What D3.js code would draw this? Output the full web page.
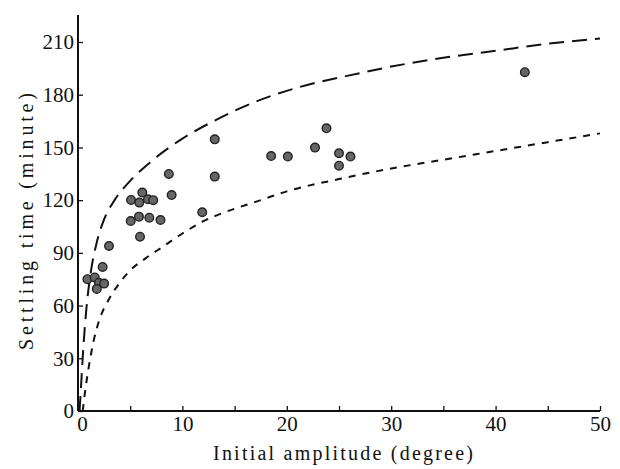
<!DOCTYPE html>
<html>
<head>
<meta charset="utf-8">
<script src="https://cdn.jsdelivr.net/npm/d3@7"></script>
<style>
    body { margin: 0; background: #fff; }
    svg { display: block; }
</style>
</head>
<body>
<div id="chart"></div>
<script>

// Measured points (initial amplitude in degree, settling time in minute)
const ampVals = [0.9, 1.6, 2.0, 2.5, 1.8, 2.36, 2.97, 5.05, 5.84, 6.83, 7.9, 5.94, 5.08, 5.87,
    6.16, 6.7, 7.2, 8.97, 8.7, 11.9, 13.1, 13.1, 18.5, 20.1, 22.7, 23.8, 25.0, 26.1, 25.0, 42.8];
const timeVals = [75, 76, 73, 72.5, 69.5, 82, 93.9, 108.1, 110.6, 110, 108.7, 99.2, 120.1, 118.6,
    124.3, 120.5, 120, 122.9, 134.9, 113.1, 154.6, 133.4, 145.1, 144.8, 149.9, 160.9, 146.7, 144.8, 139.6, 192.8];

// Upper bound curve (long dashes)
const upperX = [0.15, 0.3, 0.5, 0.8, 1.2, 1.8, 2.5, 3.5, 5, 7, 10, 13, 17, 21, 26, 30, 35, 40, 45, 50];
const upperY = [0, 15, 35, 58, 78, 96, 109, 120, 131, 142, 155, 165, 176, 184, 191, 196, 201, 205, 209, 212];

// Lower bound curve (short dashes)
const lowerX = [0.45, 0.7, 1.0, 1.5, 2, 3, 4, 5, 6.5, 8, 10, 12, 14, 17, 20, 25, 30, 35, 40, 45, 50];
const lowerY = [0, 12, 24, 40, 51, 64, 73, 80, 87, 93, 101, 108, 113, 119, 125, 132, 138, 143, 148, 153, 158];

const xTicks = [0, 5, 10, 15, 20, 25, 30, 35, 40, 45, 50];
const xTickLabels = ['0', '', '10', '', '20', '', '30', '', '40', '', '50'];
const yTicks = [0, 30, 60, 90, 120, 150, 180, 210];

function drawChart() {
    let width = 620;
    let height = 469;

    let svg = d3.select('#chart').append('svg')
        .attr('width', width)
        .attr('height', height);

    // Scale
    let xScale = d3.scaleLinear().domain([0, 50]).range([78, 600]);
    let yScale = d3.scaleLinear().domain([0, 210]).range([411, 42]);

    // Axis
    let xAxis = d3.axisBottom(xScale)
        .tickValues(xTicks)
        .tickFormat((d, i) => xTickLabels[i])
        .tickSize(-5)
        .tickPadding(5);

    let yAxis = d3.axisLeft(yScale)
        .tickValues(yTicks)
        .tickSize(-5)
        .tickPadding(4);

    let gx = svg.append('g')
        .attr('transform', `translate(0, ${yScale(0)})`)
        .call(xAxis);

    let gy = svg.append('g')
        .attr('transform', `translate(${xScale(0)}, 0)`)
        .call(yAxis);

    [gx, gy].forEach(g => {
        g.select('.domain').remove();
        g.selectAll('line').attr('stroke', '#111').attr('stroke-width', 1.3);
        g.selectAll('text')
            .attr('fill', '#111')
            .style('font-family', '"Liberation Serif", serif')
            .style('font-size', '21px');
    });
    gx.selectAll('text').attr('dx', (d, i) => i == 0 ? 4 : 0);

    // axis lines
    svg.append('line')
        .attr('x1', xScale(0)).attr('x2', xScale(0))
        .attr('y1', 15).attr('y2', yScale(0))
        .attr('stroke', '#111').attr('stroke-width', 2);
    svg.append('line')
        .attr('x1', xScale(0)).attr('x2', xScale(50))
        .attr('y1', yScale(0)).attr('y2', yScale(0))
        .attr('stroke', '#111').attr('stroke-width', 2);

    // Curves
    let line = d3.line()
        .x(d => xScale(d[0]))
        .y(d => yScale(d[1]))
        .curve(d3.curveMonotoneX);

    svg.append('path')
        .attr('d', line(upperX.map((x, i) => [x, upperY[i]])))
        .attr('fill', 'none')
        .attr('stroke', '#111')
        .attr('stroke-width', 2)
        .attr('stroke-dasharray', '15,8');

    svg.append('path')
        .attr('d', line(lowerX.map((x, i) => [x, lowerY[i]])))
        .attr('fill', 'none')
        .attr('stroke', '#111')
        .attr('stroke-width', 2)
        .attr('stroke-dasharray', '7,7');

    // Points
    svg.append('g')
        .selectAll('circle')
        .data(ampVals.map((x, i) => [x, timeVals[i]]))
        .enter()
        .append('circle')
        .attr('cx', d => xScale(d[0]))
        .attr('cy', d => yScale(d[1]))
        .attr('r', 4.3)
        .attr('fill', '#666')
        .attr('stroke', '#222')
        .attr('stroke-width', 1.4);

    // Axis titles
    svg.append('text')
        .attr('x', 213)
        .attr('y', 460)
        .attr('textLength', 260)
        .attr('lengthAdjust', 'spacing')
        .style('font-family', '"Liberation Serif", serif')
        .style('font-size', '20px')
        .attr('fill', '#111')
        .text('Initial amplitude (degree)');

    svg.append('text')
        .attr('transform', 'translate(33, 350) rotate(-90)')
        .attr('textLength', 257)
        .attr('lengthAdjust', 'spacing')
        .style('font-family', '"Liberation Serif", serif')
        .style('font-size', '20px')
        .attr('fill', '#111')
        .text('Settling time (minute)');
}

drawChart();
</script>
</body>
</html>
